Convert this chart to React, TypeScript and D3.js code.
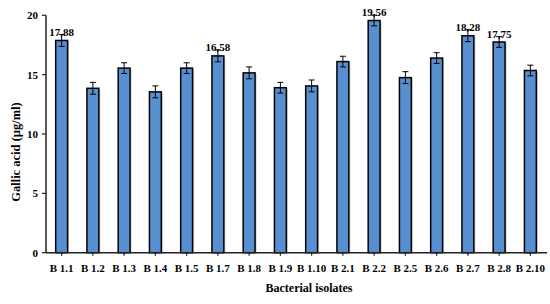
import React from "react";
import * as d3 from "d3";

const categories = ["B 1.1","B 1.2","B 1.3","B 1.4","B 1.5","B 1.7","B 1.8","B 1.9","B 1.10","B 2.1","B 2.2","B 2.5","B 2.6","B 2.7","B 2.8","B 2.10"];
const values = [17.88, 13.85, 15.55, 13.55, 15.55, 16.58, 15.15, 13.9, 14.05, 16.1, 19.56, 14.75, 16.4, 18.28, 17.75, 15.35];
const errors = [0.5, 0.5, 0.45, 0.5, 0.45, 0.5, 0.5, 0.45, 0.5, 0.45, 0.45, 0.5, 0.45, 0.5, 0.45, 0.45];
const labelled = [true, false, false, false, false, true, false, false, false, false, true, false, false, true, true, false];
const yTicks = [0, 5, 10, 15, 20];

const W = 550, H = 304;
const left = 46, right = 546, top = 15.3, bottom = 252.7;
const font = "Liberation Serif, Times New Roman, DejaVu Serif, serif";

export default function App() {
  const x = d3.scaleBand<string>().domain(categories).range([left, right]).paddingInner(0.62).paddingOuter(0.31);
  const y = d3.scaleLinear().domain([0, 20]).range([bottom, top]);
  const bw = x.bandwidth();
  const fmt = (v: number) => d3.format(".2f")(v).replace(".", ",");
  const ts: React.CSSProperties = { fontFamily: font, fontWeight: 700 };
  return (
    <svg width={W} height={H} style={{ position: "absolute", left: 0, top: 0, background: "#fff" }}>
      {categories.map((c, i) => {
        const x0 = x(c)!;
        const yv = y(values[i]);
        return (
          <g key={c}>
            <rect x={x0 + 1.5} y={yv + 1} width={bw} height={bottom - yv - 1} fill="#a6a6a6" opacity={0.6} />
            <rect x={x0} y={yv} width={bw} height={bottom - yv} fill="#588fd0" stroke="#000" strokeWidth={1.5} />
          </g>
        );
      })}
      {categories.map((c, i) => {
        const cx = x(c)! + bw / 2;
        const y1 = y(values[i] + errors[i]);
        const y2 = y(values[i] - errors[i]);
        return (
          <g key={"e" + c} stroke="#000" strokeWidth={1}>
            <line x1={cx} x2={cx} y1={y1} y2={y2} />
            <line x1={cx - 3} x2={cx + 3} y1={y1} y2={y1} />
            <line x1={cx - 3} x2={cx + 3} y1={y2} y2={y2} />
          </g>
        );
      })}
      {categories.map((c, i) =>
        labelled[i] ? (
          <text key={"l" + c} x={x(c)! + bw / 2} y={y(values[i] + errors[i]) + 1} textAnchor="middle" fontSize={11} style={ts} fill="#000">
            {fmt(values[i])}
          </text>
        ) : null
      )}
      <line x1={left} x2={left} y1={top} y2={bottom} stroke="#222" strokeWidth={1.5} />
      {yTicks.map((t) => (
        <g key={"yt" + t}>
          <line x1={left - 4} x2={left} y1={y(t)} y2={y(t)} stroke="#222" strokeWidth={1.2} />
          <text x={left - 8} y={y(t)} dy="0.35em" textAnchor="end" fontSize={11} style={ts} fill="#000">{t}</text>
        </g>
      ))}
      <line x1={left} x2={right + 1} y1={bottom} y2={bottom} stroke="#222" strokeWidth={1.5} />
      {categories.map((c) => {
        const cx = x(c)! + bw / 2;
        return (
          <g key={"xt" + c}>
            <line x1={cx} x2={cx} y1={bottom} y2={bottom + 3} stroke="#222" strokeWidth={1.2} />
            <text x={cx} y={272} textAnchor="middle" fontSize={11} style={ts} fill="#000">{c}</text>
          </g>
        );
      })}
      <text x={309} y={292} textAnchor="middle" fontSize={12} style={ts} fill="#000">Bacterial isolates</text>
      <text transform={`translate(20,152) rotate(-90)`} textAnchor="middle" fontSize={12.5} style={ts} fill="#000">Gallic acid (µg/ml)</text>
    </svg>
  );
}
